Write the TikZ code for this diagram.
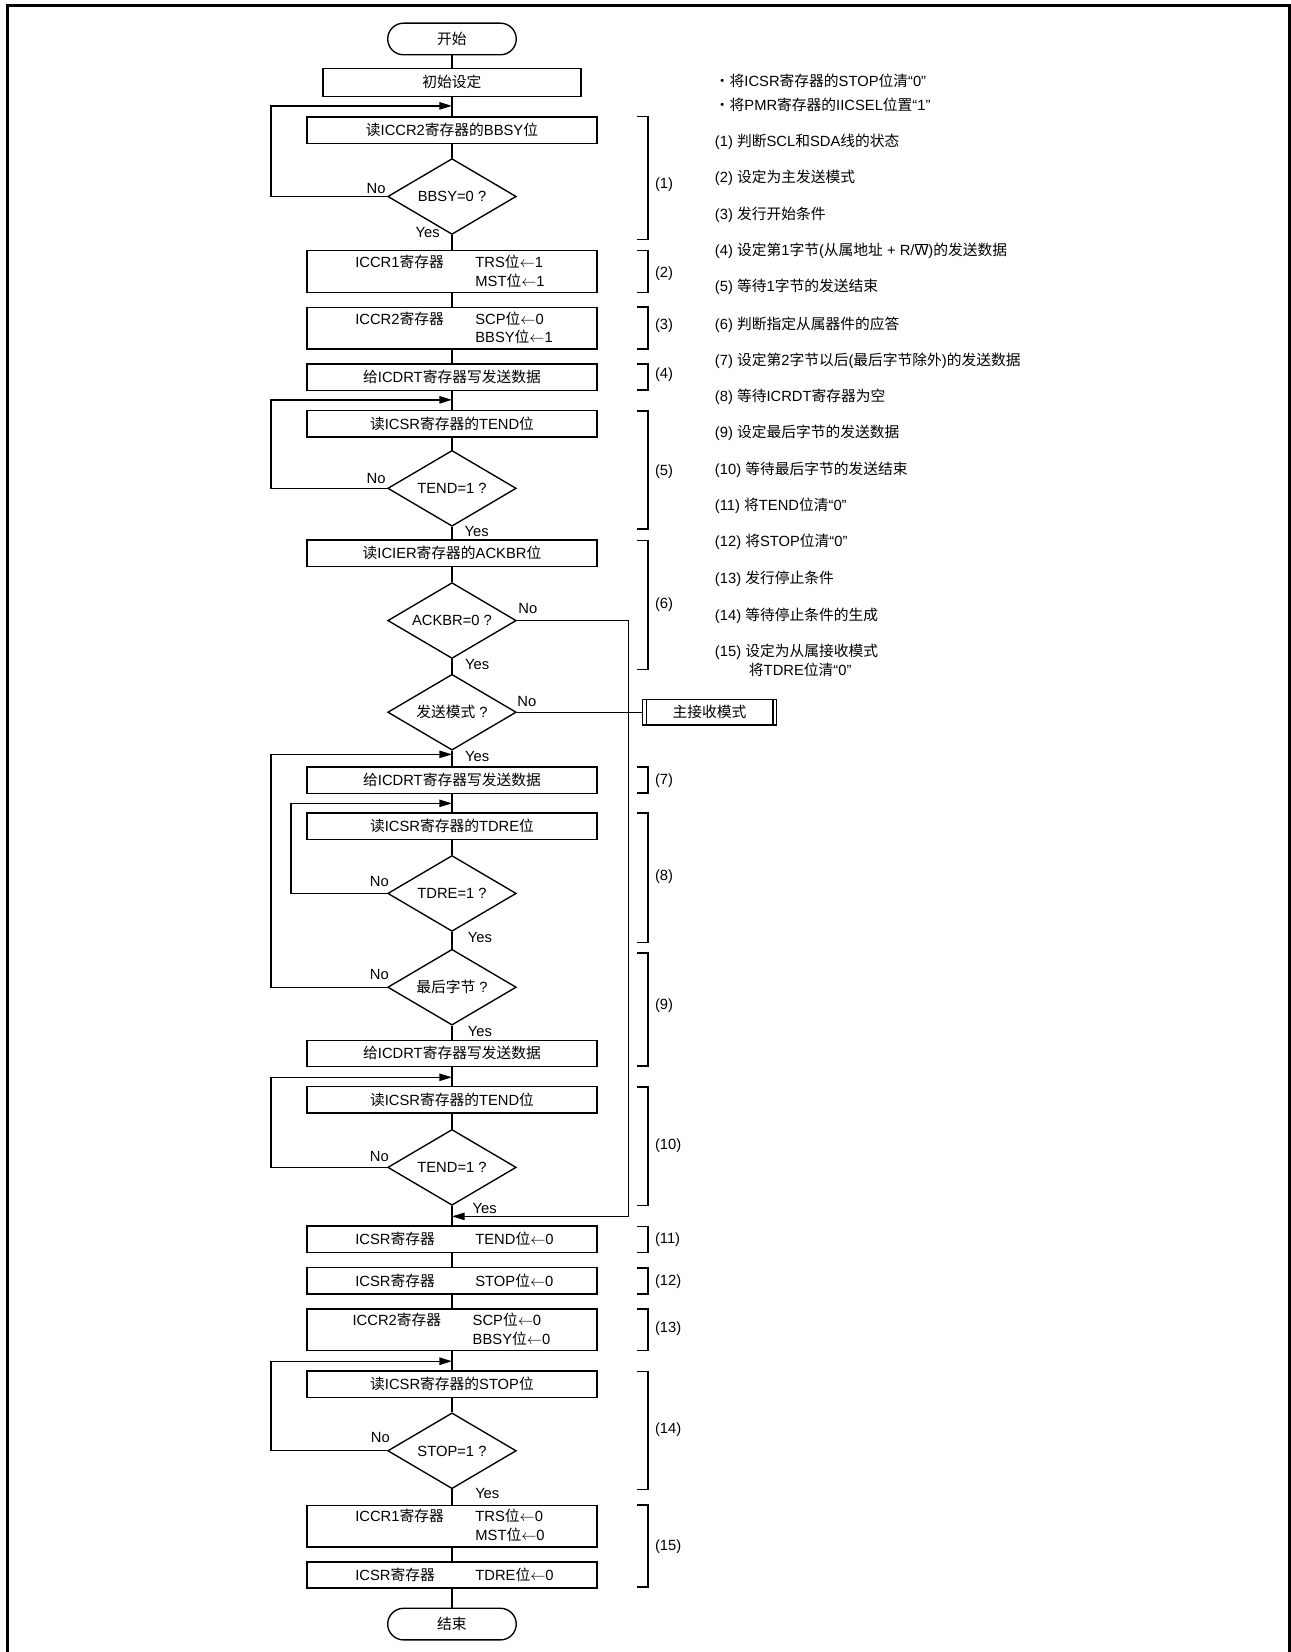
\documentclass[tikz,border=0pt]{standalone}
\usepackage{fontspec}
\setmainfont{Liberation Sans}
\newfontfamily\cjk{Noto Sans CJK SC}
\newcommand{\zh}[1]{{\cjk #1}}
\newcommand{\la}{$\leftarrow$}
\usetikzlibrary{arrows.meta,shapes.geometric}
\tikzset{
  ln/.style={line width=1.3pt},
  box/.style={draw, ln, minimum width=275pt, minimum height=25pt, inner sep=0pt, text height=10pt, text depth=0pt},
  boxtwo/.style={box, minimum height=39.5pt},
  dec/.style={draw, ln, diamond, aspect=1.7, minimum width=122pt, minimum height=72pt, inner sep=0pt, text height=10pt, text depth=0pt},
  term/.style={draw, ln, rounded corners=15pt, minimum width=122pt, minimum height=30pt, inner sep=0pt, text height=10pt, text depth=0pt},
  txt/.style={inner sep=0pt, text height=10pt, text depth=0pt},
  arr/.style={ln, -{Triangle[length=12pt,width=7pt]}},
  brk/.style={line width=1.4pt},
}
\begin{document}
\begin{tikzpicture}[x=1pt,y=-1pt,font=\fontsize{14}{17}\selectfont]
\useasboundingbox (0,0) rectangle (1225,1568);
% frame
\draw[line width=2.8pt] (7.1,1568) -- (7.1,5.2) -- (1223.6,5.2) -- (1223.6,1568);

% main column
\node[term] (start) at (429,37) {\zh{开始}};
\node[box, minimum width=245pt, minimum height=26.5pt] (init) at (429,78.2) {\zh{初始设定}};
\node[box] (b1) at (429,123.5) {\zh{读}ICCR2\zh{寄存器的}BBSY\zh{位}};
\node[dec] (d1) at (429,186.5) {BBSY=0 ?};
\node[boxtwo] (b2) at (429,257.7) {};
\node[boxtwo] (b3) at (429,311.4) {};
\node[box] (b4) at (429,357.9) {\zh{给}ICDRT\zh{寄存器写发送数据}};
\node[box] (b5) at (429,402.2) {\zh{读}ICSR\zh{寄存器的}TEND\zh{位}};
\node[dec] (d5) at (429,463.5) {TEND=1 ?};
\node[box] (b6) at (429,525) {\zh{读}ICIER\zh{寄存器的}ACKBR\zh{位}};
\node[dec] (d6) at (429,589) {ACKBR=0 ?};
\node[dec] (dm) at (429,676) {\zh{发送模式} ?};
\node[draw, ln, minimum width=127pt, minimum height=24pt, inner sep=0pt, text height=10pt, text depth=0pt] (pp) at (673.5,676) {\zh{主接收模式}};
\draw[ln] ([xshift=4pt]pp.north west) -- ([xshift=4pt]pp.south west);
\draw[ln] ([xshift=-4pt]pp.north east) -- ([xshift=-4pt]pp.south east);
\node[box] (b7) at (429,740.4) {\zh{给}ICDRT\zh{寄存器写发送数据}};
\node[box] (b8) at (429,784.3) {\zh{读}ICSR\zh{寄存器的}TDRE\zh{位}};
\node[dec] (d8) at (429,848) {TDRE=1 ?};
\node[dec] (d9) at (429,937) {\zh{最后字节} ?};
\node[box] (b9) at (429,1000) {\zh{给}ICDRT\zh{寄存器写发送数据}};
\node[box] (b10) at (429,1044) {\zh{读}ICSR\zh{寄存器的}TEND\zh{位}};
\node[dec] (d10) at (429,1108) {TEND=1 ?};
\node[box] (b11) at (429,1176.3) {};
\node[box] (b12) at (429,1215.8) {};
\node[boxtwo] (b13) at (429,1262) {};
\node[box] (b14) at (429,1313.7) {\zh{读}ICSR\zh{寄存器的}STOP\zh{位}};
\node[dec] (d14) at (429,1377) {STOP=1 ?};
\node[boxtwo] (b15) at (429,1448.4) {};
\node[box] (b16) at (429,1494.9) {};
\node[term] (stop) at (429,1541.5) {\zh{结束}};

% two-column box texts
\node[txt, anchor=west] (b2a) at (337,248.5) {ICCR1\zh{寄存器}};
\node[txt, anchor=west] (b2b) at (451,248.5) {TRS\zh{位}\la1};
\node[txt, anchor=west] (b2c) at (451,266.8) {MST\zh{位}\la1};
\node[txt, anchor=west] (b3a) at (337,302.8) {ICCR2\zh{寄存器}};
\node[txt, anchor=west] (b3b) at (451,302.8) {SCP\zh{位}\la0};
\node[txt, anchor=west] (b3c) at (451,320.5) {BBSY\zh{位}\la1};
\node[txt, anchor=west] (b11a) at (337,1176.3) {ICSR\zh{寄存器}};
\node[txt, anchor=west] (b11b) at (451,1176.3) {TEND\zh{位}\la0};
\node[txt, anchor=west] (b12a) at (337,1215.8) {ICSR\zh{寄存器}};
\node[txt, anchor=west] (b12b) at (451,1215.8) {STOP\zh{位}\la0};
\node[txt, anchor=west] (b13a) at (334.5,1253.5) {ICCR2\zh{寄存器}};
\node[txt, anchor=west] (b13b) at (448.5,1253.5) {SCP\zh{位}\la0};
\node[txt, anchor=west] (b13c) at (448.5,1271.5) {BBSY\zh{位}\la0};
\node[txt, anchor=west] (b15a) at (337,1439) {ICCR1\zh{寄存器}};
\node[txt, anchor=west] (b15b) at (451,1439) {TRS\zh{位}\la0};
\node[txt, anchor=west] (b15c) at (451,1457) {MST\zh{位}\la0};
\node[txt, anchor=west] (b16a) at (337,1494.9) {ICSR\zh{寄存器}};
\node[txt, anchor=west] (b16b) at (451,1494.9) {TDRE\zh{位}\la0};

% loop targets
\coordinate (m1) at (429,100.5);
\coordinate (m5) at (429,379.5);
\coordinate (m7) at (429,716);
\coordinate (m8) at (429,762.5);
\coordinate (m10) at (429,1022.5);
\coordinate (mack) at (429,1154.5);
\coordinate (m14) at (429,1292);

% straight flow
\draw[ln] (start) -- (init);
\draw[ln] (init) -- (b1);
\draw[ln] (b1) -- (d1);
\draw[ln] (d1) -- (b2);
\draw[ln] (b2) -- (b3);
\draw[ln] (b3) -- (b4);
\draw[ln] (b4) -- (b5);
\draw[ln] (b5) -- (d5);
\draw[ln] (d5) -- (b6);
\draw[ln] (b6) -- (d6);
\draw[ln] (d6) -- (dm);
\draw[ln] (dm) -- (b7);
\draw[ln] (b7) -- (b8);
\draw[ln] (b8) -- (d8);
\draw[ln] (d8) -- (d9);
\draw[ln] (d9) -- (b9);
\draw[ln] (b9) -- (b10);
\draw[ln] (b10) -- (d10);
\draw[ln] (d10) -- (b11);
\draw[ln] (b11) -- (b12);
\draw[ln] (b12) -- (b13);
\draw[ln] (b13) -- (b14);
\draw[ln] (b14) -- (d14);
\draw[ln] (d14) -- (b15);
\draw[ln] (b15) -- (b16);
\draw[ln] (b16) -- (stop);

% loops
\draw[arr] (d1.west) -- ++(-110.2,0) |- (m1);
\draw[arr] (d5.west) -- ++(-110.2,0) |- (m5);
\draw[arr] (d9.west) -- ++(-110.2,0) |- (m7);
\draw[arr] (d8.west) -- ++(-91.2,0) |- (m8);
\draw[arr] (d10.west) -- ++(-110.2,0) |- (m10);
\draw[arr] (d14.west) -- ++(-110.2,0) |- (m14);
\draw[arr] (d6.east) -- ++(105.7,0) |- (mack);
\draw[ln] (dm.east) -- (pp.west);

% Yes / No labels
\node[txt] (n1) at (357,178.5) {No};
\node[txt] (y1) at (406,220) {Yes};
\node[txt] (n5) at (357,453.5) {No};
\node[txt] (y5) at (452.5,504) {Yes};
\node[txt] (n6) at (501,577.5) {No};
\node[txt] (y6) at (453,630) {Yes};
\node[txt] (nm) at (500,666) {No};
\node[txt] (ym) at (453,718) {Yes};
\node[txt] (n8) at (360,836.5) {No};
\node[txt] (y8) at (455.5,890) {Yes};
\node[txt] (n9) at (360,924.5) {No};
\node[txt] (y9) at (455.5,979) {Yes};
\node[txt] (n10) at (360,1097.5) {No};
\node[txt] (y10) at (460,1146.5) {Yes};
\node[txt] (n14) at (361,1364) {No};
\node[txt] (y14) at (462.5,1417.5) {Yes};

% brackets
\foreach \ya/\yb/\yl/\t in {110.7/227.5/174/1, 238/277.4/258/2, 291.6/331.2/308/3, 345.7/370/354/4, 390/502.3/446/5, 512.9/635.5/573/6, 728/752.8/740/7, 771.7/894.5/831/8, 904.6/1012/953/9, 1031.7/1144/1086/10, 1164/1188.6/1175/11, 1203.5/1228.1/1215/12, 1242.4/1281.6/1260/13, 1301.5/1413.8/1356/14, 1428.6/1506.4/1467/15}{
  \draw[brk] (604.7,\ya) -- (615.2,\ya) -- (615.2,\yb) -- (604.7,\yb);
  \node[txt, anchor=west] (bl\t) at (621.5,\yl) {(\t)};
}

% notes
\node[txt, anchor=west] (r0) at (678.4,77.5) {\zh{・将}ICSR\zh{寄存器的}STOP\zh{位清}“0”};
\node[txt, anchor=west] (r00) at (678.4,99.6) {\zh{・将}PMR\zh{寄存器的}IICSEL\zh{位置}“1”};
\node[txt, anchor=west] (r1) at (678.4,134.4) {(1) \zh{判断}SCL\zh{和}SDA\zh{线的状态}};
\node[txt, anchor=west] (r2) at (678.4,168.3) {(2) \zh{设定为主发送模式}};
\node[txt, anchor=west] (r3) at (678.4,203) {(3) \zh{发行开始条件}};
\node[txt, anchor=west] (r4) at (678.4,237.9) {(4) \zh{设定第}1\zh{字节}(\zh{从属地址} + R/$\overline{\mbox{W}}$)\zh{的发送数据}};
\node[txt, anchor=west] (r5) at (678.4,272) {(5) \zh{等待}1\zh{字节的发送结束}};
\node[txt, anchor=west] (r6) at (678.4,307.4) {(6) \zh{判断指定从属器件的应答}};
\node[txt, anchor=west] (r7) at (678.4,342.2) {(7) \zh{设定第}2\zh{字节以后}(\zh{最后字节除外})\zh{的发送数据}};
\node[txt, anchor=west] (r8) at (678.4,375.7) {(8) \zh{等待}ICRDT\zh{寄存器为空}};
\node[txt, anchor=west] (r9) at (678.4,410.5) {(9) \zh{设定最后字节的发送数据}};
\node[txt, anchor=west] (r10) at (678.4,445.3) {(10) \zh{等待最后字节的发送结束}};
\node[txt, anchor=west] (r11) at (678.4,479.2) {(11) \zh{将}TEND\zh{位清}“0”};
\node[txt, anchor=west] (r12) at (678.4,514) {(12) \zh{将}STOP\zh{位清}“0”};
\node[txt, anchor=west] (r13) at (678.4,548.8) {(13) \zh{发行停止条件}};
\node[txt, anchor=west] (r14) at (678.4,583.5) {(14) \zh{等待停止条件的生成}};
\node[txt, anchor=west] (r15) at (678.4,618.3) {(15) \zh{设定为从属接收模式}};
\node[txt, anchor=west] (r15b) at (710.7,635.7) {\zh{将}TDRE\zh{位清}“0”};
\end{tikzpicture}
\end{document}
